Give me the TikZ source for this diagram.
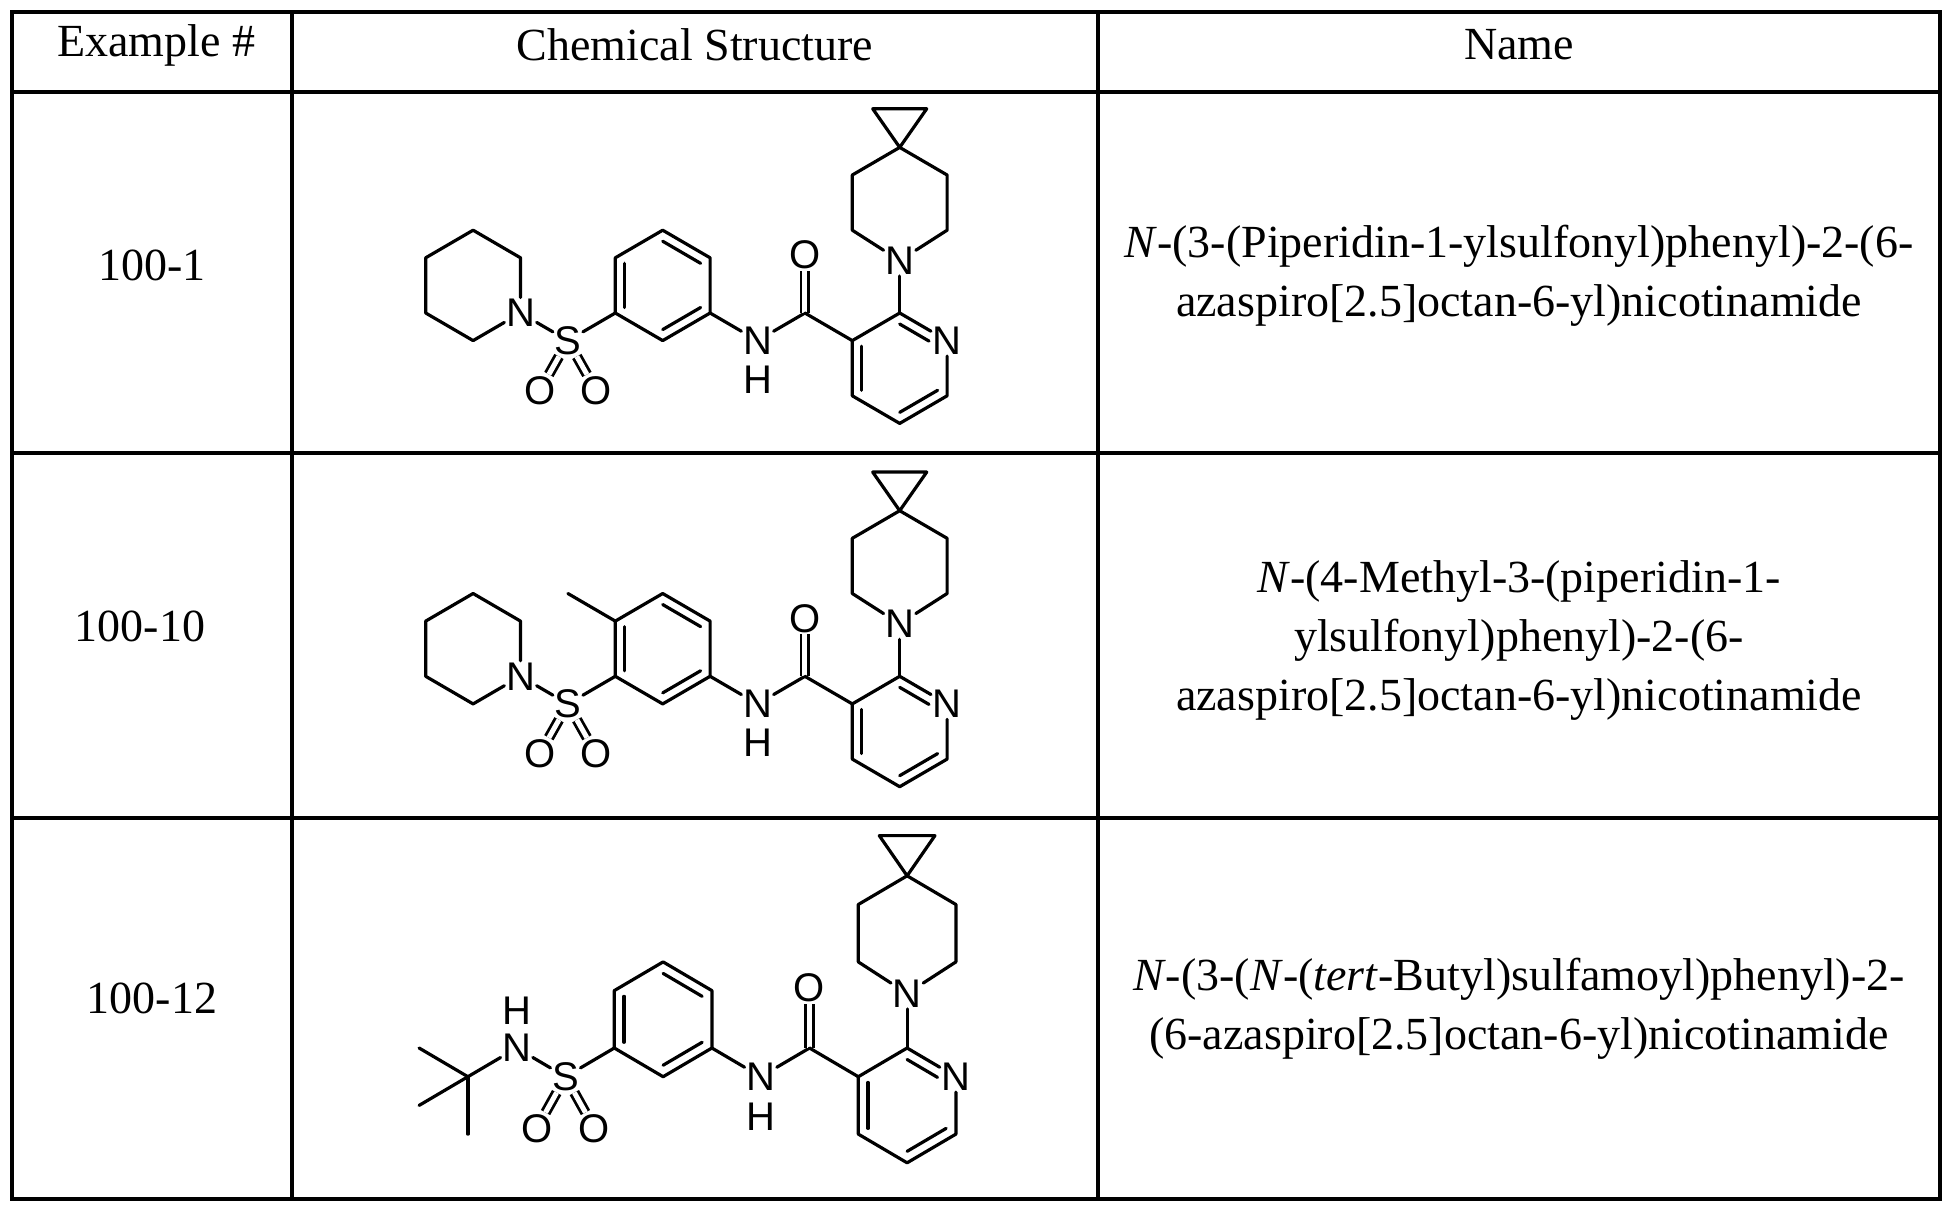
\documentclass[tikz,border=0pt]{standalone}
\usepackage{fontspec}
\setmainfont{Liberation Serif}
\newfontfamily\chemfont{Liberation Sans}
\usetikzlibrary{calc}
\newcommand\molright[1]{%
  \coordinate (#1b1) at (2,0); \coordinate (#1b2) at (2,2); \coordinate (#1b3) at (3,3);
  \coordinate (#1b4) at (4,2); \coordinate (#1b5) at (4,0); \coordinate (#1b6) at (3,-1);
  \coordinate (#1bc) at (3,1);
  \draw[bond] (#1b1)--(#1b2)--(#1b3)--(#1b4)--(#1b5)--(#1b6)--cycle;
  \draw[bond] ($(#1b1)!0.2!(#1bc)$)--($(#1b2)!0.2!(#1bc)$);
  \draw[bond] ($(#1b3)!0.2!(#1bc)$)--($(#1b4)!0.2!(#1bc)$);
  \draw[bond] ($(#1b5)!0.2!(#1bc)$)--($(#1b6)!0.2!(#1bc)$);
  \node[atom] (#1NH) at (5,-1) {N};
  \node[atom] (#1H) at (5,-2.4) {H};
  \coordinate (#1cc) at (6,0);
  \node[atom] (#1O) at (6,2.1) {O};
  \draw[bond] (#1b5)--(#1NH)--(#1cc);
  \draw[dbl] (#1cc)--(#1O);
  \coordinate (#1p3) at (7,-1); \coordinate (#1p2) at (8,0);
  \node[atom] (#1pN) at (9,-1) {N};
  \coordinate (#1p5) at (9,-3); \coordinate (#1p6) at (8,-4); \coordinate (#1p4) at (7,-3);
  \coordinate (#1pc) at (8,-2);
  \draw[bond] (#1cc)--(#1p3)--(#1p2)--(#1pN);
  \draw[bond] (#1pN)--(#1p5)--(#1p6)--(#1p4)--(#1p3);
  \draw[bond,shorten >=10pt] ($(#1p2)!0.2!(#1pc)$)--($(#1pN)!0.2!(#1pc)$);
  \draw[bond] ($(#1p5)!0.2!(#1pc)$)--($(#1p6)!0.2!(#1pc)$);
  \draw[bond] ($(#1p4)!0.2!(#1pc)$)--($(#1p3)!0.2!(#1pc)$);
  \node[atom] (#1aN) at (8,1.9) {N};
  \coordinate (#1a1) at (7,3); \coordinate (#1a2) at (7,5); \coordinate (#1sp) at (8,6);
  \coordinate (#1a4) at (9,5); \coordinate (#1a5) at (9,3);
  \coordinate (#1c1) at (7.43,7.4); \coordinate (#1c2) at (8.57,7.4);
  \draw[bond] (#1p2)--(#1aN);
  \draw[bond] (#1aN)--(#1a1)--(#1a2)--(#1sp)--(#1a4)--(#1a5)--(#1aN);
  \draw[bond] (#1sp)--(#1c1)--(#1c2)--cycle;
}
\newcommand\pipsulf[1]{%
  \node[atom] (#1N1) at (0,0) {N};
  \coordinate (#1q1) at (0,2); \coordinate (#1q2) at (-1,3); \coordinate (#1q3) at (-2,2);
  \coordinate (#1q4) at (-2,0); \coordinate (#1q5) at (-1,-1);
  \draw[bond] (#1N1)--(#1q1)--(#1q2)--(#1q3)--(#1q4)--(#1q5)--(#1N1);
  \node[atom] (#1S) at (1,-1) {S};
  \node[atom] (#1O1) at (0.41,-2.8) {O};
  \node[atom] (#1O2) at (1.59,-2.8) {O};
  \draw[bond] (#1N1)--(#1S)--(#1b1);
  \draw[dbl] (#1S)--(#1O1); \draw[dbl] (#1S)--(#1O2);
}
\begin{document}
\begin{tikzpicture}[x=1pt,y=1pt,
  bond/.style={line width=3.2pt,line cap=round,line join=round},
  dbl/.style={line width=2.8pt,double distance=5pt},
  atom/.style={font=\chemfont\fontsize{40}{40}\selectfont,inner sep=1.5pt},
  txt/.style={font=\fontsize{46}{59}\selectfont,align=center},
  grid/.style={line width=3.2pt}]
\useasboundingbox (0,0) rectangle (1953,-1208);
\fill[white] (0,0) rectangle (1953,-1208);
% table
\draw[grid] (12,-12) rectangle (1940,-1199);
\draw[grid] (12,-92)--(1940,-92);
\draw[grid] (12,-453)--(1940,-453);
\draw[grid] (12,-818)--(1940,-818);
\draw[grid] (292,-12)--(292,-1199);
\draw[grid] (1098,-12)--(1098,-1199);
\node[txt] (h1) at (156,-45) {Example \#};
\node[txt] (h2) at (695,-45) {Chemical Structure};
\node[txt] (h3) at (1519,-45) {Name};
\node[txt] (e1) at (152,-265) {100-1};
\node[txt] (e2) at (140,-626) {100-10};
\node[txt] (e3) at (152,-998) {100-12};
\node[txt] (n1) at (1519,-276) {\textit{N}-(3-(Piperidin-1-ylsulfonyl)phenyl)-2-(6-\\azaspiro[2.5]octan-6-yl)nicotinamide};
\node[txt] (n2) at (1519,-640) {\textit{N}-(4-Methyl-3-(piperidin-1-\\ylsulfonyl)phenyl)-2-(6-\\azaspiro[2.5]octan-6-yl)nicotinamide};
\node[txt] (n3) at (1519,-1009) {\textit{N}-(3-(\textit{N}-(\textit{tert}-Butyl)sulfamoyl)phenyl)-2-\\(6-azaspiro[2.5]octan-6-yl)nicotinamide};
% row 1
\begin{scope}[shift={(520.5,-313)},x={(47.4pt,0pt)},y={(0pt,27.6pt)}]
  \molright{r1}
  \pipsulf{r1}
\end{scope}
% row 2
\begin{scope}[shift={(520.5,-676.3)},x={(47.4pt,0pt)},y={(0pt,27.6pt)}]
  \molright{r2}
  \pipsulf{r2}
  \coordinate (r2me) at (1,3);
  \draw[bond] (r2b2)--(r2me);
\end{scope}
% row 3
\begin{scope}[shift={(516.7,-1048)},x={(48.8pt,0pt)},y={(0pt,28.7pt)}]
  \molright{r3}
  \node[atom] (r3NS) at (0,0) {N};
  \node[atom] (r3HS) at (0,1.3) {H};
  \node[atom] (r3S) at (1,-1) {S};
  \node[atom] (r3O1) at (0.41,-2.8) {O};
  \node[atom] (r3O2) at (1.59,-2.8) {O};
  \draw[bond] (r3NS)--(r3S)--(r3b1);
  \draw[dbl] (r3S)--(r3O1); \draw[dbl] (r3S)--(r3O2);
  \coordinate (r3t) at (-1,-1);
  \coordinate (r3m1) at (-2,0); \coordinate (r3m2) at (-2,-2); \coordinate (r3m3) at (-1,-3);
  \draw[bond] (r3NS)--(r3t);
  \draw[bond] (r3t)--(r3m1); \draw[bond] (r3t)--(r3m2); \draw[bond] (r3t)--(r3m3);
\end{scope}
\end{tikzpicture}
\end{document}
